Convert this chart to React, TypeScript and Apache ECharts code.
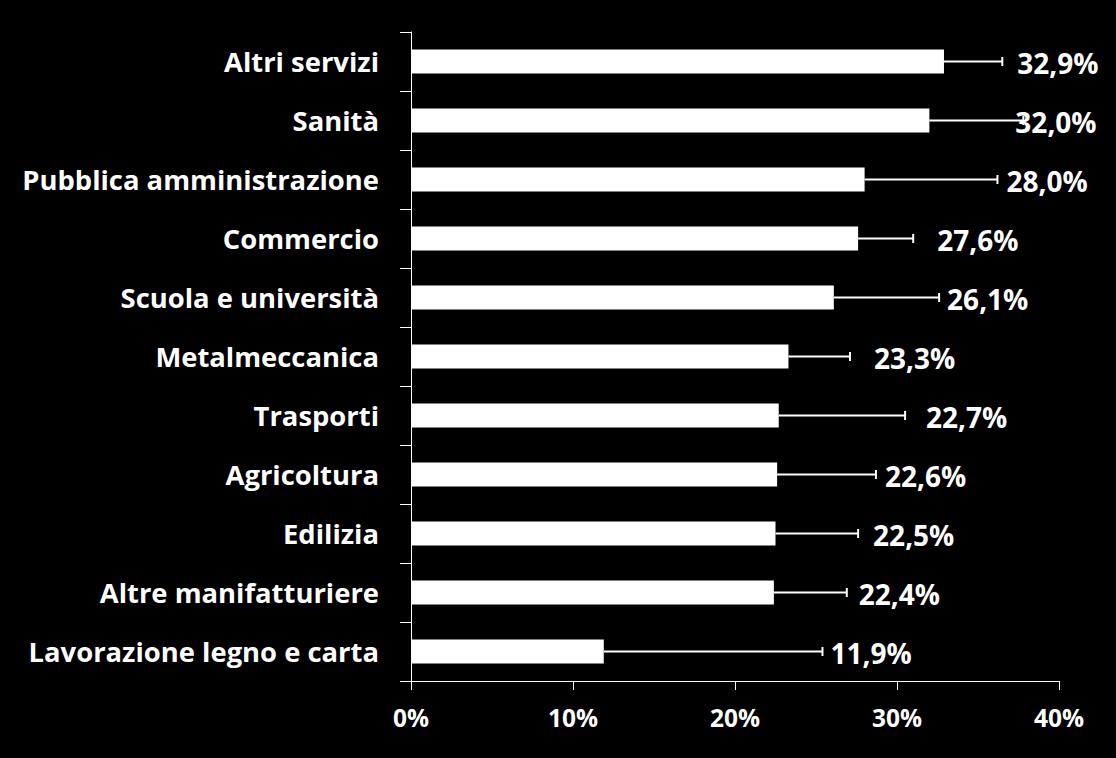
import React, { useEffect, useRef } from "react";
import * as echarts from "echarts";

const categories = [
  "Altri servizi",
  "Sanità",
  "Pubblica amministrazione",
  "Commercio",
  "Scuola e università",
  "Metalmeccanica",
  "Trasporti",
  "Agricoltura",
  "Edilizia",
  "Altre manifatturiere",
  "Lavorazione legno e carta",
];
const values = [32.9, 32.0, 28.0, 27.6, 26.1, 23.3, 22.7, 22.6, 22.5, 22.4, 11.9];
const errorUpper = [36.5, 37.8, 36.2, 31.0, 32.6, 27.1, 30.5, 28.7, 27.6, 26.9, 25.4];
const labelTexts = ["32,9%", "32,0%", "28,0%", "27,6%", "26,1%", "23,3%", "22,7%", "22,6%", "22,5%", "22,4%", "11,9%"];
const xTicks = [0, 10, 20, 30, 40];

// label horizontal nudge (px) from the error bar end, as placed in the original
const labelNudge = [15, -8, 9, 24, 8, 24, 21, 9, 15, 12, 8];

const FONT = "'Open Sans', sans-serif";

export default function App() {
  const ref = useRef<HTMLDivElement>(null);
  useEffect(() => {
    document.body.style.margin = "0";
    document.body.style.background = "#000";
    const chart = echarts.init(ref.current!, null, { renderer: "svg" });
    const errData = values.map((v, i) => [i, v, errorUpper[i]]);
    chart.setOption({
      animation: false,
      backgroundColor: "#000000",
      grid: { left: 411, top: 32, width: 648, height: 649, containLabel: false },
      xAxis: {
        type: "value",
        min: xTicks[0],
        max: xTicks[xTicks.length - 1],
        interval: 10,
        splitLine: { show: false },
        axisLine: { show: true, lineStyle: { color: "#fff", width: 1 } },
        axisTick: { show: true, length: 9, lineStyle: { color: "#fff", width: 1 } },
        axisLabel: {
          color: "#fff",
          fontFamily: FONT,
          fontWeight: "bold",
          fontSize: 24.5,
          margin: 24,
          formatter: "{value}%",
        },
      },
      yAxis: {
        type: "category",
        data: categories,
        inverse: true,
        axisLine: { show: true, lineStyle: { color: "#fff", width: 1 } },
        axisTick: { show: true, length: 11, alignWithLabel: false, lineStyle: { color: "#fff", width: 1 } },
        axisLabel: {
          color: "#fff",
          fontFamily: FONT,
          fontWeight: "bold",
          fontSize: 27.4,
          margin: 32,
        },
        splitLine: { show: false },
      },
      series: [
        {
          type: "bar",
          data: values,
          barWidth: 24,
          itemStyle: { color: "#ffffff" },
          silent: true,
        },
        {
          type: "custom",
          data: errData,
          z: 5,
          renderItem: (params: any, api: any) => {
            const idx = api.value(0);
            const v = api.value(1);
            const e = api.value(2);
            const p0 = api.coord([v, idx]);
            const p1 = api.coord([e, idx]);
            const y = p0[1];
            return {
              type: "group",
              children: [
                {
                  type: "line",
                  shape: { x1: p0[0], y1: y, x2: p1[0], y2: y },
                  style: { stroke: "#fff", lineWidth: 2 },
                },
                {
                  type: "line",
                  shape: { x1: p1[0], y1: y - 4.5, x2: p1[0], y2: y + 4.5 },
                  style: { stroke: "#fff", lineWidth: 2 },
                },
                {
                  type: "text",
                  z2: 10,
                  style: {
                    x: p1[0] + labelNudge[params.dataIndex],
                    y: y + 1.5,
                    text: labelTexts[params.dataIndex],
                    fill: "#fff",
                    font: `bold 28px ${FONT}`,
                    verticalAlign: "middle",
                    align: "left",
                  },
                },
              ],
            };
          },
        },
      ],
    });
    return () => chart.dispose();
  }, []);
  return <div ref={ref} style={{ width: 1116, height: 758, background: "#000" }} />;
}
